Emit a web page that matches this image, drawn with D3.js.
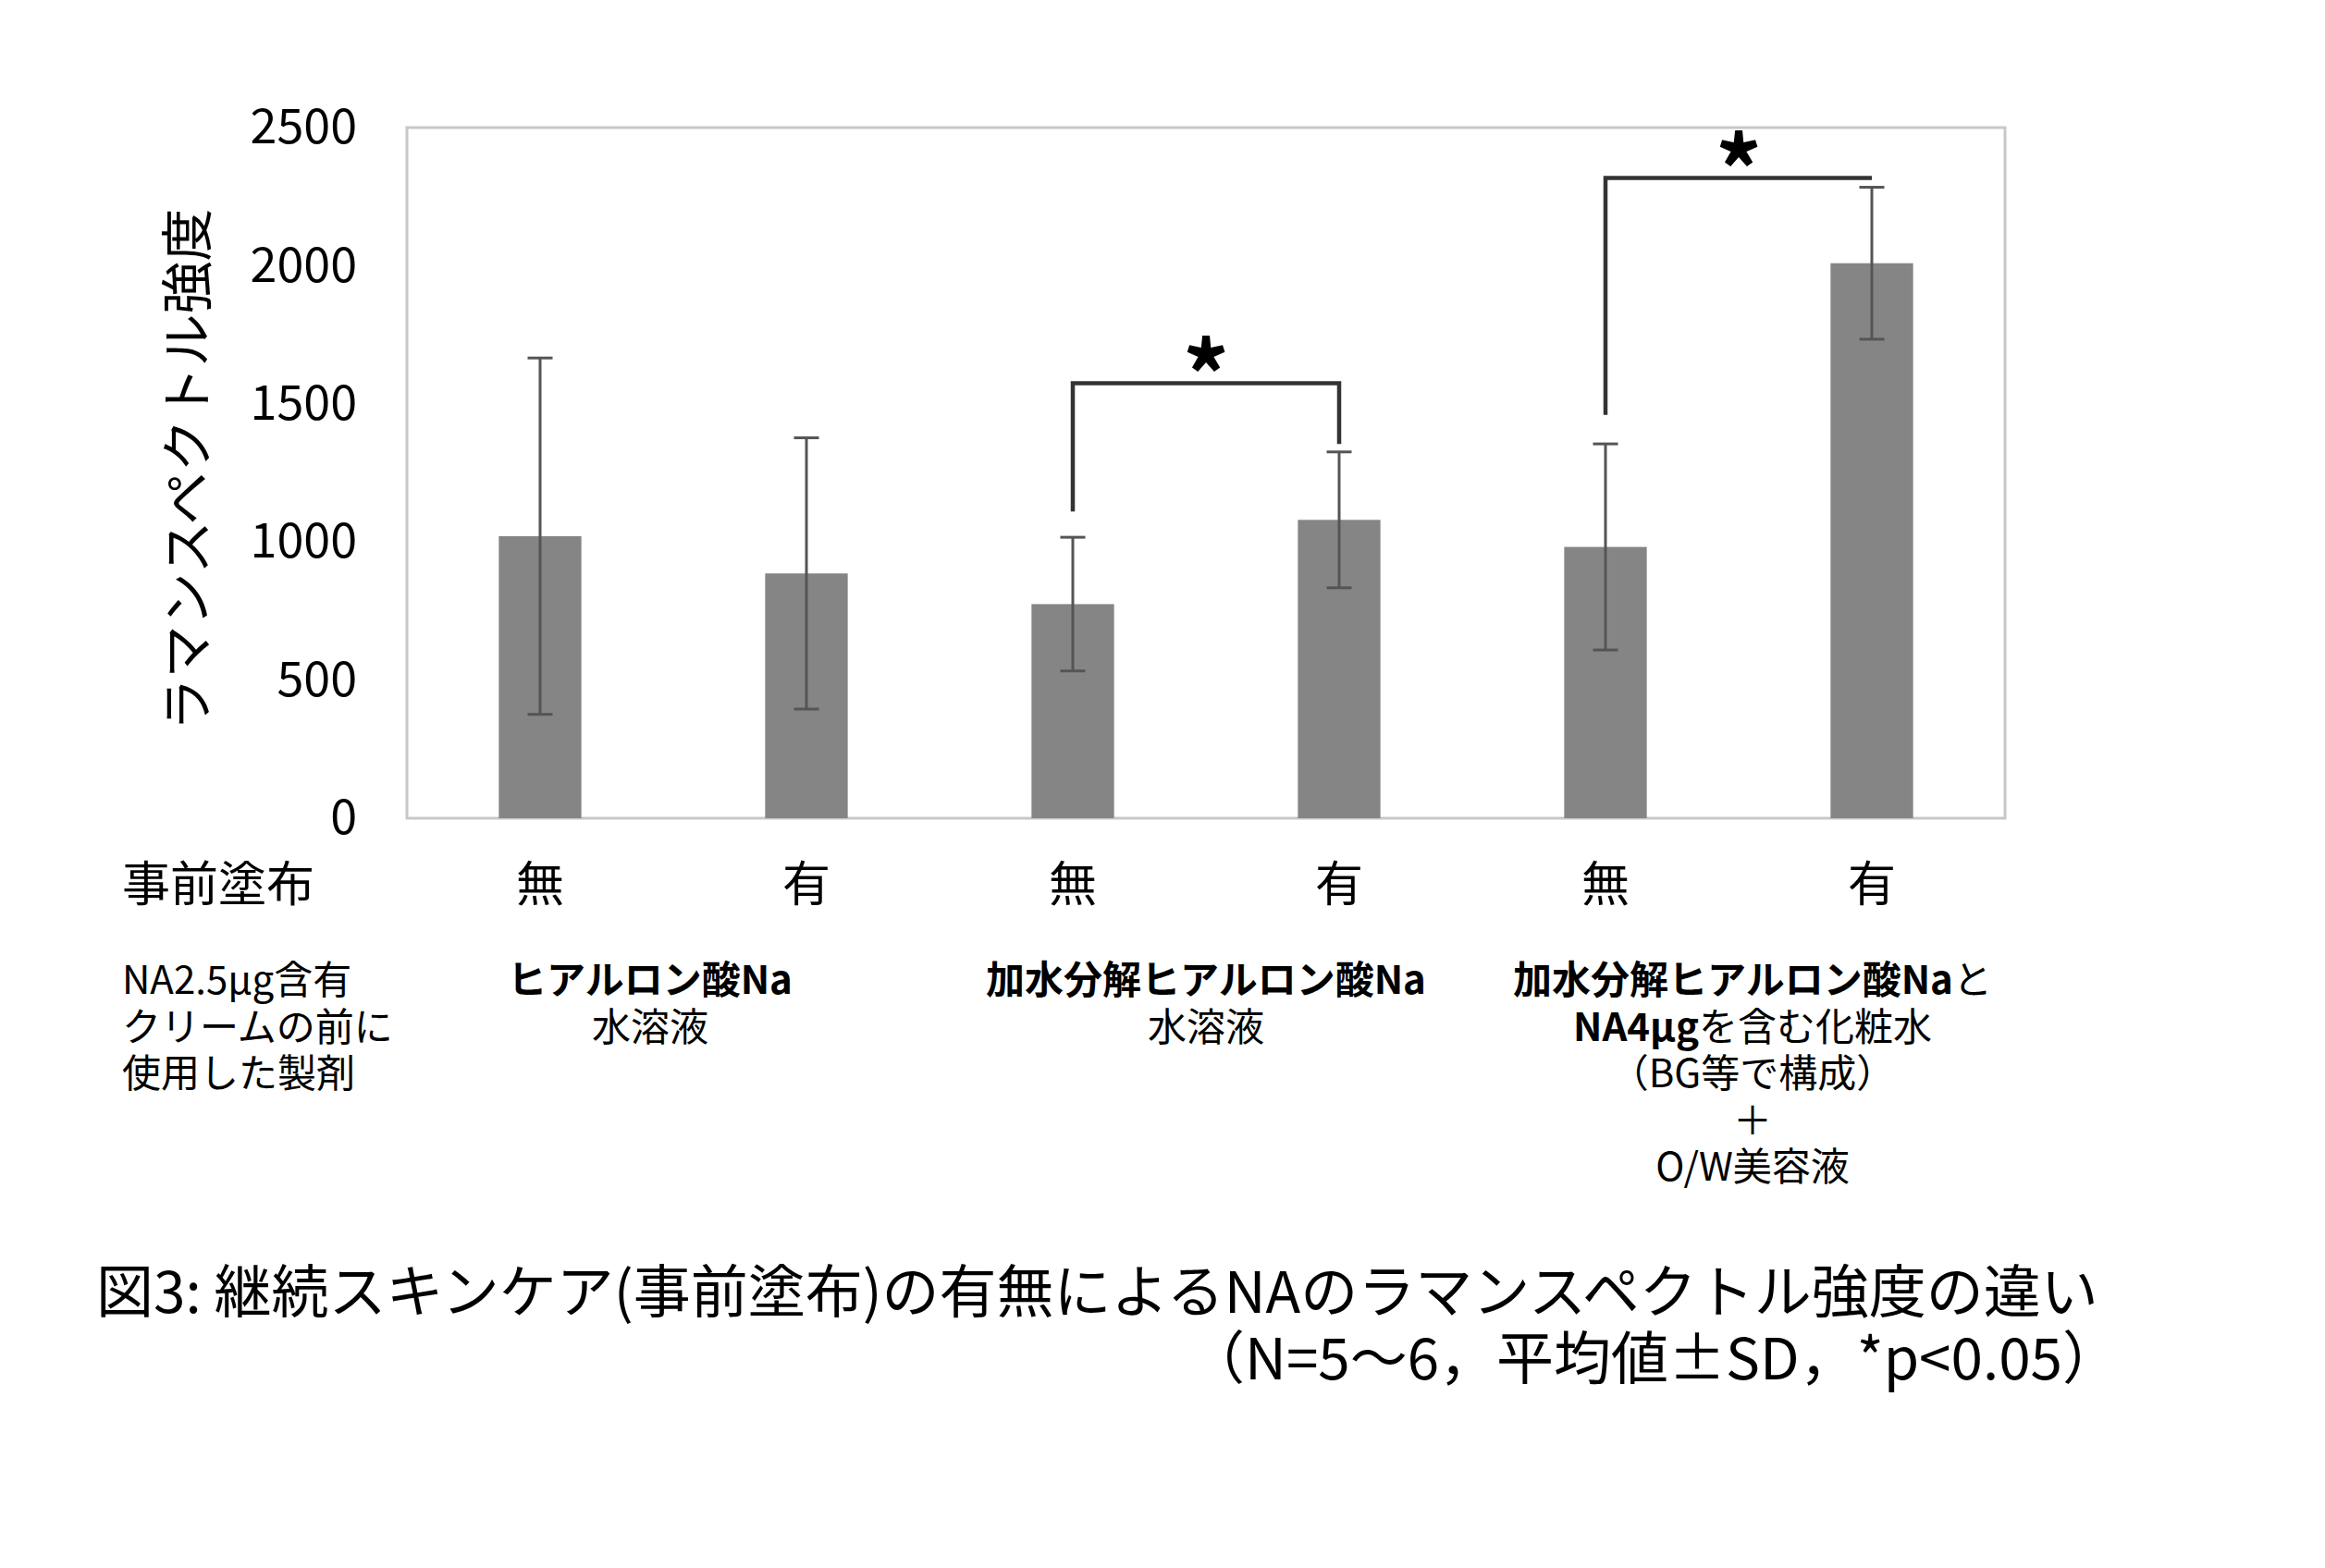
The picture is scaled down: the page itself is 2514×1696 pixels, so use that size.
<!DOCTYPE html>
<html>
<head>
<meta charset="utf-8">
<script src="https://cdn.jsdelivr.net/npm/d3@7"></script>
<style>
  body { margin: 0; background: #fff; }
  svg { display: block; }
  text { font-family: "Noto Sans CJK JP", "Noto Sans", sans-serif; fill: #000; }
</style>
</head>
<body>
<div id="vis"></div>
<script>
// values
var categories = ["無", "有", "無", "有", "無", "有"];
var means = [1021, 886, 775, 1080, 982, 2009];
var sds = [645, 491, 242, 246, 373, 275];
var yTicks = [0, 500, 1000, 1500, 2000, 2500];

// significance brackets: [from bar, to bar, top value, left leg end, right leg end]
var brackets = [
    [2, 3, 1575, 1110, 1355],
    [4, 5, 2318, 1460, 2318]
];

var rowTitle = "事前塗布";
var leftNote = ["NA2.5μg含有", "クリームの前に", "使用した製剤"];
// each group label: list of lines, each line a list of [text, bold]
var groupLabels = [
    [[["ヒアルロン酸Na", true]], [["水溶液", false]]],
    [[["加水分解ヒアルロン酸Na", true]], [["水溶液", false]]],
    [[["加水分解ヒアルロン酸Na", true], ["と", false]],
     [["NA4μg", true], ["を含む化粧水", false]],
     [["（BG等で構成）", false]],
     [["＋", false]],
     [["O/W美容液", false]]]
];
var yTitle = "ラマンスペクトル強度";
var caption1 = "図3: 継続スキンケア(事前塗布)の有無によるNAのラマンスペクトル強度の違い";
var caption2 = "（N=5～6，平均値±SD，*p<0.05）";

var W = 2514, H = 1696;
var plot = { left: 440, right: 2168, top: 138, bottom: 885 };

var svg = d3.select("#vis").append("svg")
    .attr("width", W)
    .attr("height", H);

svg.append("rect")
    .attr("width", W)
    .attr("height", H)
    .attr("fill", "#fff");

var x = d3.scaleBand()
    .domain(d3.range(categories.length))
    .range([plot.left, plot.right])
    .paddingInner(0.69)
    .paddingOuter(0.345);

var y = d3.scaleLinear()
    .domain([0, 2500])
    .range([plot.bottom, plot.top]);

function cx(i) { return x(i) + x.bandwidth() / 2; }

// plot frame
svg.append("rect")
    .attr("x", plot.left)
    .attr("y", plot.top)
    .attr("width", plot.right - plot.left)
    .attr("height", plot.bottom - plot.top)
    .attr("fill", "none")
    .attr("stroke", "#c8c8c8")
    .attr("stroke-width", 3);

// y axis labels
var yAxis = svg.append("g")
    .attr("transform", "translate(" + plot.left + ",0)")
    .call(d3.axisLeft(y).tickValues(yTicks).tickSize(0).tickPadding(54).tickFormat(d3.format("d")));
yAxis.select(".domain").remove();
yAxis.selectAll("text")
    .attr("font-size", "52px")
    .attr("font-family", "'Noto Sans CJK JP', sans-serif")
    .attr("fill", "#000");

// bars
svg.selectAll(".bar")
    .data(means)
    .enter().append("rect")
    .attr("class", "bar")
    .attr("x", function(d, i) { return x(i); })
    .attr("y", function(d) { return y(d); })
    .attr("width", x.bandwidth())
    .attr("height", function(d) { return y(0) - y(d); })
    .attr("fill", "#858585");

// error bars
var eb = svg.selectAll(".err")
    .data(means)
    .enter().append("g")
    .attr("class", "err")
    .attr("stroke", "#555")
    .attr("stroke-width", 3);
eb.append("line")
    .attr("x1", function(d, i) { return cx(i); })
    .attr("x2", function(d, i) { return cx(i); })
    .attr("y1", function(d, i) { return y(d + sds[i]); })
    .attr("y2", function(d, i) { return y(d - sds[i]); });
[1, -1].forEach(function(s) {
    eb.append("line")
        .attr("x1", function(d, i) { return cx(i) - 13.5; })
        .attr("x2", function(d, i) { return cx(i) + 13.5; })
        .attr("y1", function(d, i) { return y(d + s * sds[i]); })
        .attr("y2", function(d, i) { return y(d + s * sds[i]); });
});

// significance brackets
brackets.forEach(function(b) {
    var x1 = cx(b[0]), x2 = cx(b[1]);
    svg.append("path")
        .attr("d", d3.line()([[x1, y(b[3])], [x1, y(b[2])], [x2, y(b[2])], [x2, y(b[4])]]))
        .attr("fill", "none")
        .attr("stroke", "#333")
        .attr("stroke-width", 4.5);
    svg.append("text")
        .attr("x", (x1 + x2) / 2)
        .attr("y", y(b[2]) + 30)
        .attr("text-anchor", "middle")
        .attr("font-size", "100px")
        .attr("font-weight", "bold")
        .text("*");
});

// y title
svg.append("text")
    .attr("transform", "translate(223,508) rotate(-90)")
    .attr("text-anchor", "middle")
    .attr("font-size", "57px")
    .text(yTitle);

// category row
svg.append("text")
    .attr("x", 132)
    .attr("y", 975)
    .attr("font-size", "52px")
    .text(rowTitle);
svg.selectAll(".cat")
    .data(categories)
    .enter().append("text")
    .attr("class", "cat")
    .attr("x", function(d, i) { return cx(i); })
    .attr("y", 975)
    .attr("text-anchor", "middle")
    .attr("font-size", "52px")
    .text(function(d) { return d; });

// notes under the chart
var noteTop = 1075, lineH = 50.5;
leftNote.forEach(function(t, k) {
    svg.append("text")
        .attr("x", 132)
        .attr("y", noteTop + k * lineH)
        .attr("font-size", "42px")
        .text(t);
});

var groupNudge = [-25, 0, 15];
groupLabels.forEach(function(lines, g) {
    var gx = (cx(g * 2) + cx(g * 2 + 1)) / 2 + groupNudge[g];
    lines.forEach(function(parts, k) {
        var t = svg.append("text")
            .attr("x", gx)
            .attr("y", noteTop + k * lineH)
            .attr("text-anchor", "middle")
            .attr("font-size", "42px");
        parts.forEach(function(p) {
            t.append("tspan")
                .attr("font-weight", p[1] ? "bold" : "normal")
                .text(p[0]);
        });
    });
});

// caption
svg.append("text")
    .attr("x", 104)
    .attr("y", 1420)
    .attr("font-size", "62px")
    .text(caption1);
svg.append("text")
    .attr("x", 2292)
    .attr("y", 1492)
    .attr("text-anchor", "end")
    .attr("font-size", "62px")
    .text(caption2);
</script>
</body>
</html>
